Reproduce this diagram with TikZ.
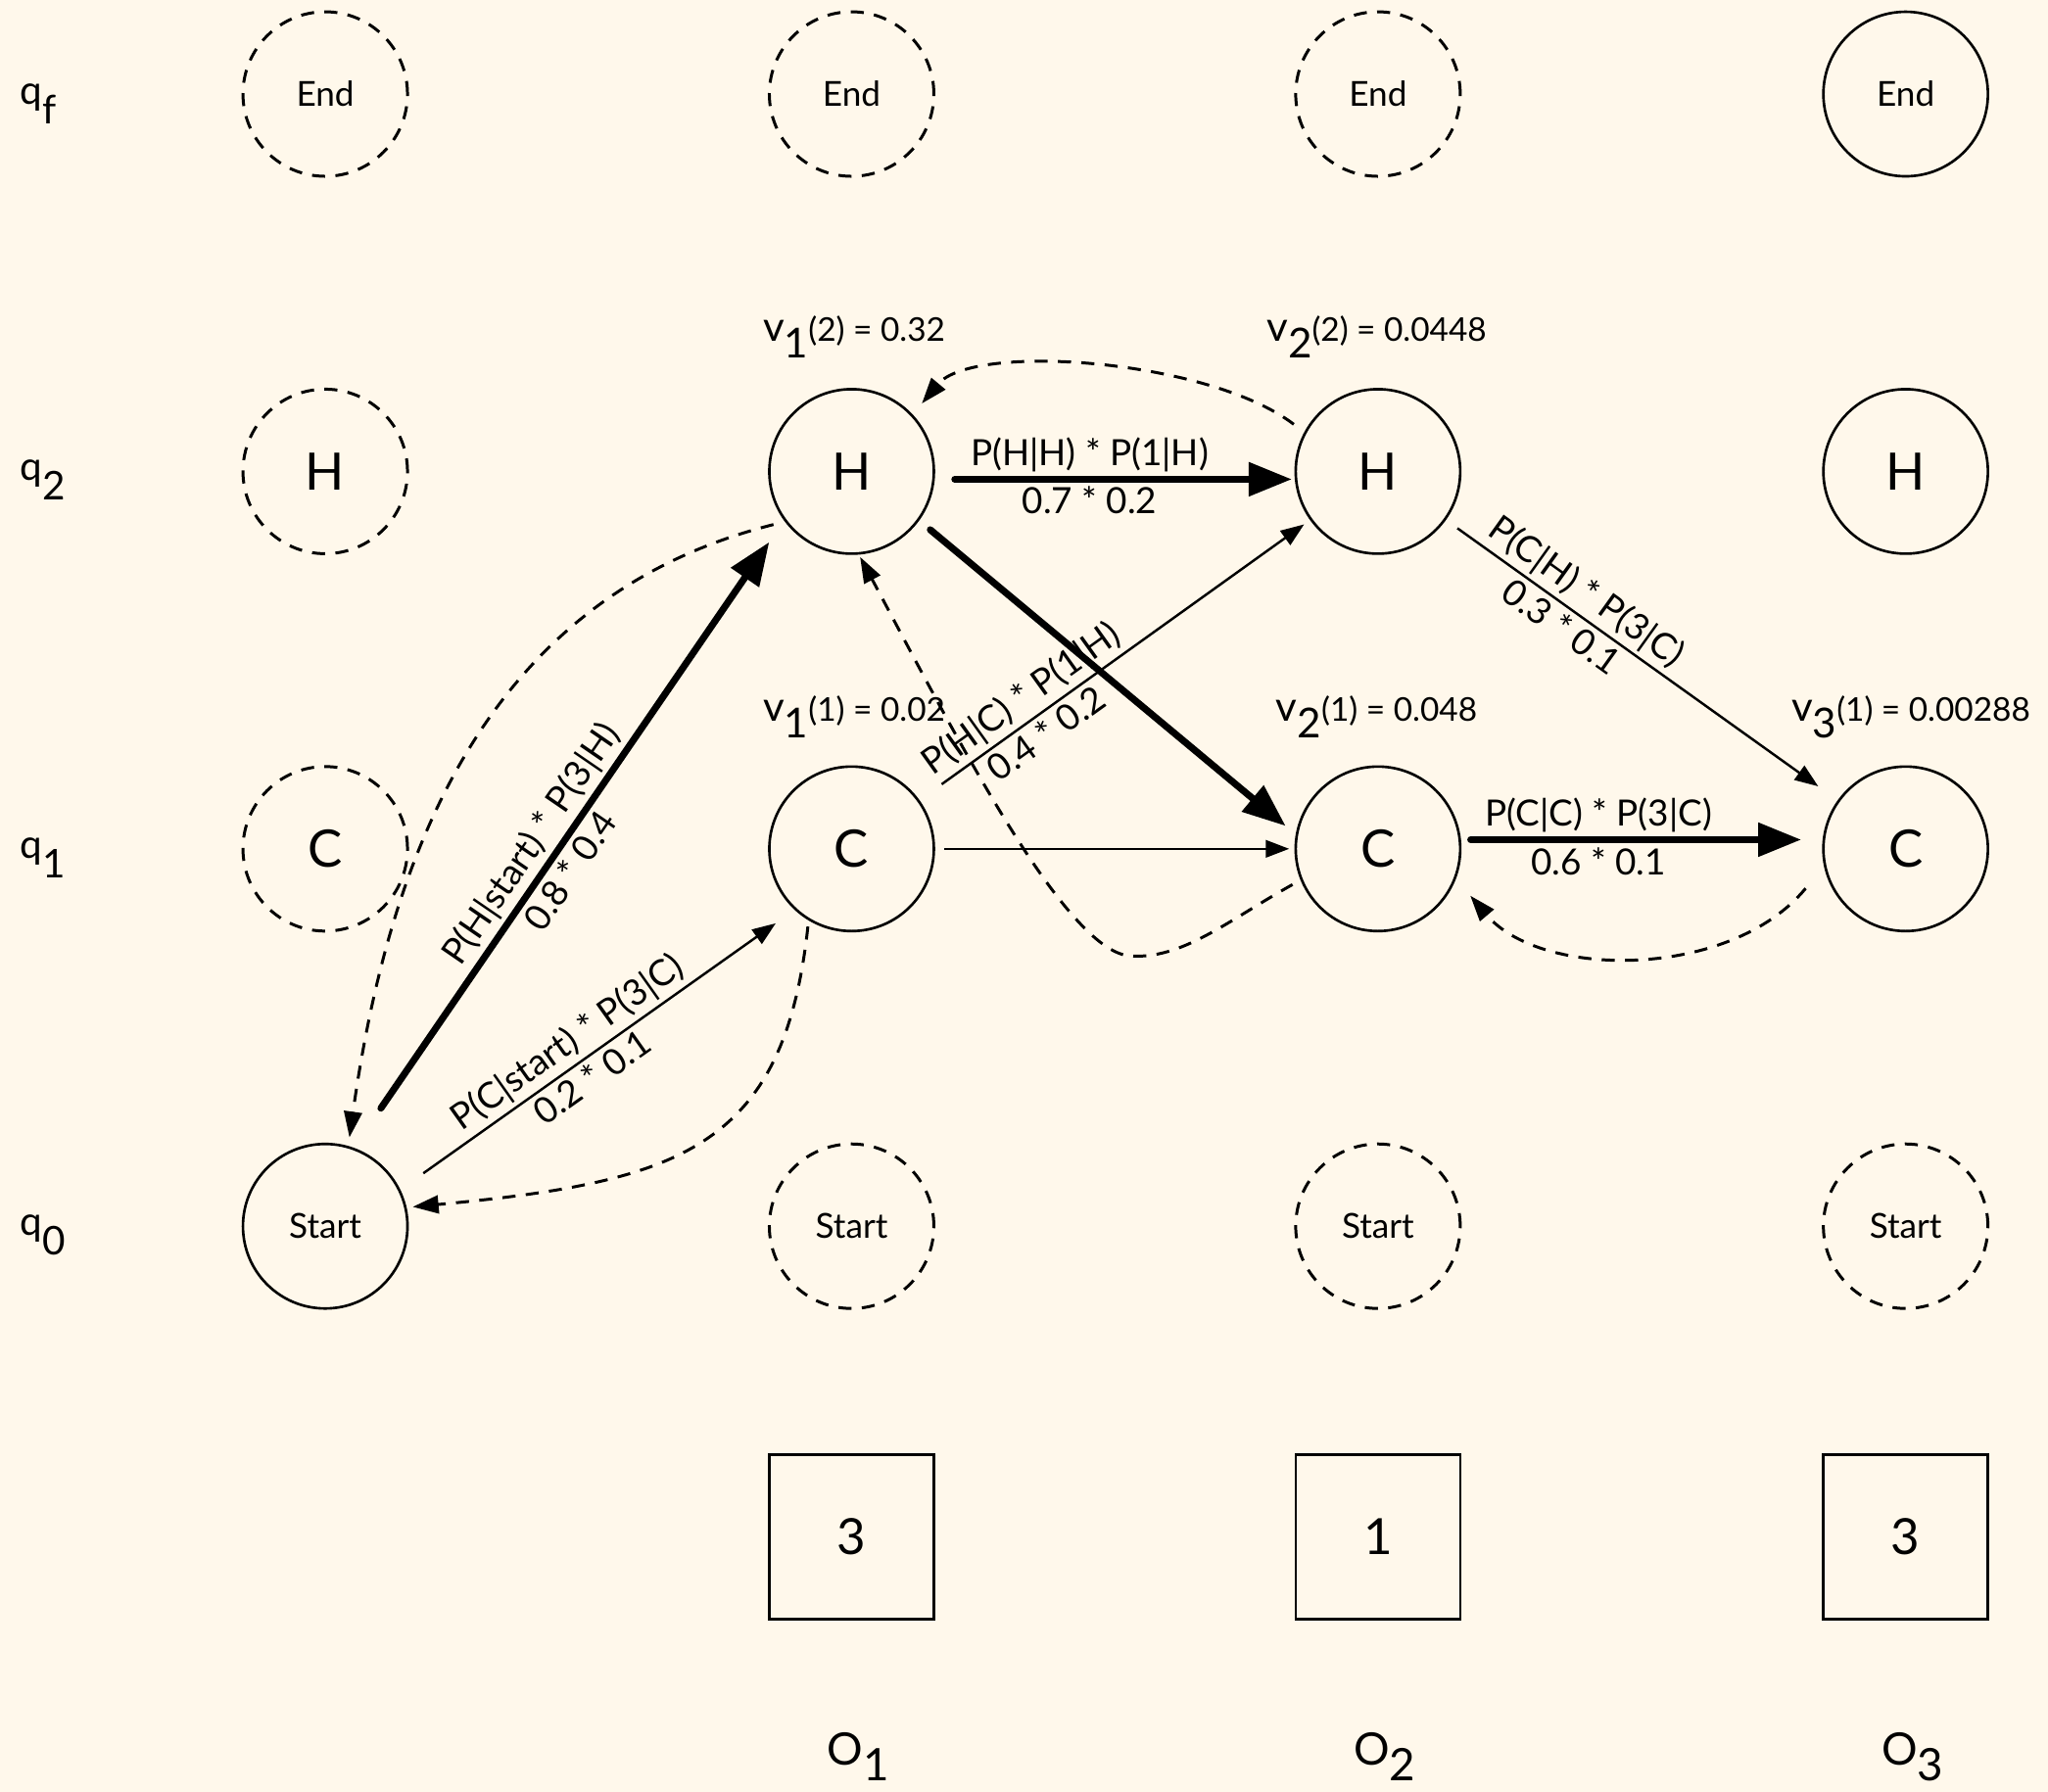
\documentclass[tikz,border=0pt]{standalone}
\usepackage{fontspec}
\setmainfont{Lato}
\usetikzlibrary{arrows.meta}
\definecolor{paper}{RGB}{255,248,235}
\newdimen\ux
\ux=0.013335cm
\newcommand\dropped[2]{\raisebox{-#1}{#2}}
\newcommand\vval[3]{{\fontsize{12}{12}\selectfont v\dropped{0.17cm}{#1}}(#2) = #3}

\begin{document}
\begin{tikzpicture}[x=0.013335cm, y=-0.013335cm,
  st/.style={circle, draw, line width=0.75pt, minimum size=1.68cm, inner sep=0pt, font=\fontsize{15}{15}\selectfont},
  ghost/.style={st, line width=0.85pt, dash pattern=on 3.8pt off 3pt},
  small/.style={font=\fontsize{10}{10}\selectfont},
  obs/.style={rectangle, draw, line width=0.75pt, minimum size=1.68cm, inner sep=0pt, font=\fontsize{14.5}{14}\selectfont},
  strong/.style={line width=2pt, line cap=round, -{Triangle[length=12.5pt,width=9.5pt]}},
  weak/.style={line width=0.7pt, -{Triangle[length=6.8pt,width=5pt]}},
  back/.style={line width=0.85pt, dash pattern=on 3.8pt off 3pt, -{Triangle[length=7.5pt,width=5.2pt]}},
  lab/.style={font=\fontsize{10.5}{10}\selectfont, sloped, inner sep=1.2pt},
  vlab/.style={anchor=base, font=\fontsize{9.5}{10}\selectfont},
  rowlab/.style={anchor=base west, inner sep=0pt, font=\fontsize{11.5}{10}\selectfont},
  collab/.style={anchor=base west, inner sep=0pt, font=\fontsize{13}{12}\selectfont},
]
\fill[paper] (0,0) rectangle (1568,1372);
\useasboundingbox (0,0) rectangle (1568,1372);

% state labels on the left
\node[rowlab] (qf) at (15,80) {q\dropped{0.2cm}{f}};
\node[rowlab] (q2) at (15,368) {q\dropped{0.2cm}{2}};
\node[rowlab] (q1) at (15,657) {q\dropped{0.2cm}{1}};
\node[rowlab] (q0) at (15,946) {q\dropped{0.2cm}{0}};

% trellis column 0
\node[ghost, small] (E0) at (249,72) {End};
\node[ghost] (H0) at (249,361) {H};
\node[ghost] (C0) at (249,650) {C};
\node[st, small] (S0) at (249,939) {Start};

% trellis column 1
\node[ghost, small] (E1) at (652,72) {End};
\node[st] (H1) at (652,361) {H};
\node[st] (C1) at (652,650) {C};
\node[ghost, small] (S1) at (652,939) {Start};
\node[obs] (B1) at (652,1177) {3};
\node[collab] (O1) at (633,1352) {O\dropped{0.16cm}{1}};

% trellis column 2
\node[ghost, small] (E2) at (1055,72) {End};
\node[st] (H2) at (1055,361) {H};
\node[st] (C2) at (1055,650) {C};
\node[ghost, small] (S2) at (1055,939) {Start};
\node[obs] (B2) at (1055,1177) {1};
\node[collab] (O2) at (1036,1352) {O\dropped{0.16cm}{2}};

% trellis column 3
\node[st, small] (E3) at (1459,72) {End};
\node[st] (H3) at (1459,361) {H};
\node[st] (C3) at (1459,650) {C};
\node[ghost, small] (S3) at (1459,939) {Start};
\node[obs] (B3) at (1459,1177) {3};
\node[collab] (O3) at (1440,1352) {O\dropped{0.16cm}{3}};

% viterbi values
\node[vlab] (v12) at (654,261) {\vval{1}{2}{0.32}};
\node[vlab] (v22) at (1054,261) {\vval{2}{2}{0.0448}};
\node[vlab] (v11) at (654,552) {\vval{1}{1}{0.02}};
\node[vlab] (v21) at (1054,552) {\vval{2}{1}{0.048}};
\node[vlab] (v31) at (1463,552) {\vval{3}{1}{0.00288}};

% forward transitions
\draw[strong, shorten <=36.7*\ux, shorten >=20*\ux] (S0.70) -- (H1.216)
  node[lab, above, pos=.461] {P(H|start) * P(3|H)}
  node[lab, below, pos=.461] {0.8 * 0.4};
\draw[weak, shorten <=21.6*\ux, shorten >=17.7*\ux] (S0.26) -- (C1.227)
  node[lab, above, pos=.458] {P(C|start) * P(3|C)}
  node[lab, below, pos=.458] {0.2 * 0.1};
\draw[strong, shorten <=15*\ux, shorten >=2*\ux] ([yshift=-6*\ux]H1.east) -- ([yshift=-6*\ux]H2.west)
  node[lab, above, pos=.43] {P(H|H) * P(1|H)}
  node[lab, below, pos=.43] {0.7 * 0.2};
\draw[strong, shorten <=11*\ux, shorten >=10*\ux] (H1.-36) -- (C2.170);
\draw[weak, shorten <=20.9*\ux, shorten >=5.6*\ux] (C1) -- (H2)
  node[lab, above, pos=.295] {P(H|C) * P(1|H)}
  node[lab, below, pos=.295] {0.4 * 0.2};
\draw[weak, shorten <=7*\ux, shorten >=4*\ux] (C1) -- (C2);
\draw[weak, shorten <=10.8*\ux, shorten >=18.3*\ux] (H2) -- (C3)
  node[lab, above, pos=.324] {P(C|H) * P(3|C)}
  node[lab, below, pos=.324] {0.3 * 0.1};
\draw[strong, shorten <=7*\ux, shorten >=16*\ux] ([yshift=7*\ux]C2.east) -- ([yshift=7*\ux]C3.west)
  node[lab, above, pos=.38] {P(C|C) * P(3|C)}
  node[lab, below, pos=.38] {0.6 * 0.1};

% back-pointers
\draw[back, shorten <=9*\ux, shorten >=6.6*\ux] (H1.217) .. controls (380,455) and (300,640) .. (S0.74);
\draw[back, shorten <=4.7*\ux, shorten >=4.7*\ux] (C1.239) .. controls (600,880) and (520,905) .. (S0.13);
\draw[back, shorten <=10*\ux, shorten >=11*\ux] (H2.152) .. controls (925,275) and (745,262) .. (H1.43);
\draw[back, shorten <=7*\ux, shorten >=2*\ux] (C2.202) .. controls (940,705) and (905,735) .. (865,732)
  .. controls (815,728) and (730,560) .. (H1.275);
\draw[back, shorten <=22*\ux, shorten >=17*\ux] (C3.192) .. controls (1325,750) and (1180,750) .. (C2.339);
\end{tikzpicture}
\end{document}
